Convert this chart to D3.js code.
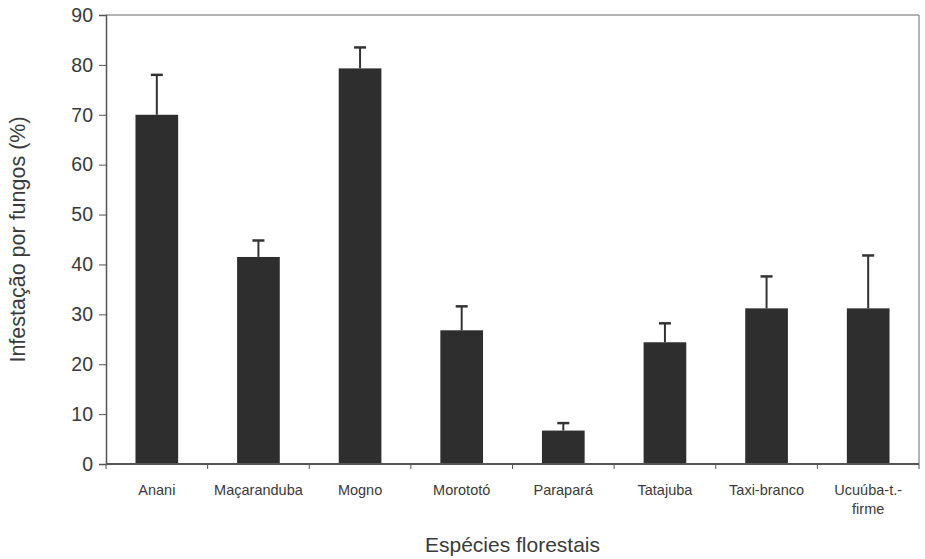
<!DOCTYPE html>
<html>
<head>
<meta charset="utf-8">
<script src="https://cdn.jsdelivr.net/npm/d3@7"></script>
<style>
  body { margin: 0; background: #fff; }
  text { font-family: "Liberation Sans", Arial, sans-serif; fill: #3a3a3a; }
</style>
</head>
<body>
<div id="chart"></div>
<script>
// species and measured infestation (%), with upper error bar end
const species = ['Anani', 'Maçaranduba', 'Mogno', 'Morototó', 'Parapará', 'Tatajuba', 'Taxi-branco', 'Ucuúba-t.-firme'];
const infest = [70.0, 41.5, 79.3, 26.8, 6.7, 24.4, 31.2, 31.2];
const errTop = [78.0, 44.8, 83.5, 31.6, 8.2, 28.2, 37.6, 41.8];
const yTicks = [0, 10, 20, 30, 40, 50, 60, 70, 80, 90];

const width = 925, height = 559;
const margin = { top: 15, right: 6, bottom: 95, left: 106 };
const innerW = width - margin.left - margin.right;
const innerH = height - margin.top - margin.bottom;

const svg = d3.select('#chart').append('svg')
    .attr('width', width)
    .attr('height', height);

const g = svg.append('g')
    .attr('transform', 'translate(' + margin.left + ',' + margin.top + ')');

const x = d3.scaleBand()
    .domain(species)
    .range([0, innerW])
    .paddingInner(0.58)
    .paddingOuter(0.29);

const y = d3.scaleLinear()
    .domain([0, 90])
    .range([innerH, 0]);

// light frame on top and right
g.append('line')
    .attr('x1', 0).attr('x2', innerW).attr('y1', 0).attr('y2', 0)
    .attr('stroke', '#999').attr('stroke-width', 1.5);
g.append('line')
    .attr('x1', innerW).attr('x2', innerW).attr('y1', 0).attr('y2', innerH)
    .attr('stroke', '#999').attr('stroke-width', 1.5);

// bars
g.selectAll('rect.bar')
    .data(species)
    .enter()
    .append('rect')
    .attr('class', 'bar')
    .attr('x', d => x(d))
    .attr('width', x.bandwidth())
    .attr('y', (d, i) => y(infest[i]))
    .attr('height', (d, i) => innerH - y(infest[i]))
    .attr('fill', '#2e2e2e');

// error bars
const err = g.selectAll('g.err')
    .data(species)
    .enter()
    .append('g')
    .attr('class', 'err')
    .attr('transform', d => 'translate(' + (x(d) + x.bandwidth() / 2) + ',0)');
err.append('line')
    .attr('x1', 0).attr('x2', 0)
    .attr('y1', (d, i) => y(infest[i]))
    .attr('y2', (d, i) => y(errTop[i]))
    .attr('stroke', '#333').attr('stroke-width', 2);
err.append('line')
    .attr('x1', -6).attr('x2', 6)
    .attr('y1', (d, i) => y(errTop[i]))
    .attr('y2', (d, i) => y(errTop[i]))
    .attr('stroke', '#333').attr('stroke-width', 2.5);

// y axis
const yAxis = g.append('g')
    .call(d3.axisLeft(y).tickValues(yTicks).tickSize(7).tickPadding(6));
yAxis.select('.domain').attr('stroke', '#555').attr('stroke-width', 1.5);
yAxis.selectAll('.tick line').attr('stroke', '#555');
yAxis.selectAll('.tick text')
    .attr('font-size', 19.5)
    .style('font-family', '"Liberation Sans", Arial, sans-serif')
    .attr('fill', '#3a3a3a');

// x axis: ticks at category boundaries
const xAxisG = g.append('g')
    .attr('transform', 'translate(0,' + innerH + ')');
xAxisG.append('line')
    .attr('x1', 0).attr('x2', innerW)
    .attr('stroke', '#555').attr('stroke-width', 2);
const step = x.step();
const edge = x(species[0]) - x.paddingOuter() * step;
xAxisG.selectAll('line.bt')
    .data(d3.range(species.length + 1))
    .enter()
    .append('line')
    .attr('class', 'bt')
    .attr('x1', i => edge + i * step)
    .attr('x2', i => edge + i * step)
    .attr('y1', 0).attr('y2', 5)
    .attr('stroke', '#555');

// category labels
const lab = xAxisG.selectAll('text.cat')
    .data(species)
    .enter()
    .append('text')
    .attr('class', 'cat')
    .attr('x', d => x(d) + x.bandwidth() / 2)
    .attr('y', 31)
    .attr('text-anchor', 'middle')
    .attr('font-size', 14.5);
lab.each(function (d) {
    const t = d3.select(this);
    if (d === 'Ucuúba-t.-firme') {
        t.append('tspan').attr('x', x(d) + x.bandwidth() / 2).text('Ucuúba-t.-');
        t.append('tspan').attr('x', x(d) + x.bandwidth() / 2).attr('dy', 19).text('firme');
    } else {
        t.text(d);
    }
});

// axis titles
svg.append('text')
    .attr('x', margin.left + innerW / 2)
    .attr('y', 552)
    .attr('text-anchor', 'middle')
    .attr('font-size', 21)
    .text('Espécies florestais');

svg.append('text')
    .attr('transform', 'translate(25,' + (margin.top + innerH / 2) + ') rotate(-90)')
    .attr('text-anchor', 'middle')
    .attr('font-size', 21.5)
    .text('Infestação por fungos (%)');
</script>
</body>
</html>
